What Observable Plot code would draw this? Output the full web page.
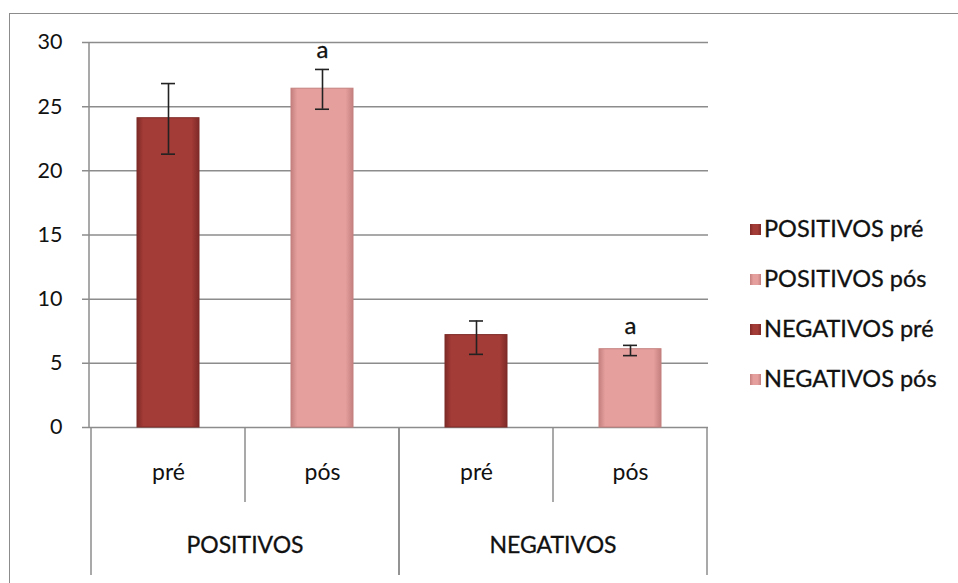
<!DOCTYPE html>
<html>
<head>
<meta charset="utf-8">
<script src="https://cdn.jsdelivr.net/npm/d3@7"></script>
<script src="https://cdn.jsdelivr.net/npm/@observablehq/plot@0.6"></script>
<style>
  html, body { margin: 0; padding: 0; background: #fff; overflow: hidden; }
  #wrap { position: relative; width: 958px; height: 583px; overflow: hidden; font-family: Lato, "Open Sans", sans-serif; }
  #border { position: absolute; left: 9px; top: 13px; width: 1000px; height: 700px; border: 1.5px solid #8c8c8c; box-sizing: border-box; }
  #chart { position: absolute; left: 0; top: 0; }
  #legend { position: absolute; left: 750px; top: 203px; }
  .item { height: 50px; line-height: 50px; font-size: 23.5px; color: #111; white-space: nowrap; -webkit-text-stroke: 0.3px #111; }
  .sw { display: inline-block; width: 11px; height: 11px; margin-right: 3px; vertical-align: middle; position: relative; top: -2px; }
</style>
</head>
<body>
<div id="wrap">
  <div id="border"></div>
  <div id="chart"></div>
  <div id="legend"></div>
</div>
<script>
// ---- data ----
const groups = ["POSITIVOS", "POSITIVOS", "NEGATIVOS", "NEGATIVOS"];
const phases = ["pré", "pós", "pré", "pós"];
const means = [24.1, 26.4, 7.2, 6.1];
const errLow = [21.3, 24.8, 5.7, 5.6];
const errHigh = [26.8, 27.9, 8.3, 6.4];
const sigLabels = ["", "a", "", "a"];
const seriesNames = ["POSITIVOS pré", "POSITIVOS pós", "NEGATIVOS pré", "NEGATIVOS pós"];
const yTicks = [0, 5, 10, 15, 20, 25, 30];
const baseColors = ["#a33b37", "#e5a09e", "#a33b37", "#e5a09e"];
const edgeColors = ["#7e2a27", "#c4807e", "#7e2a27", "#c4807e"];

const data = means.map((m, i) => ({
  key: seriesNames[i], group: groups[i], phase: phases[i],
  mean: m, lo: errLow[i], hi: errHigh[i], sig: sigLabels[i], idx: i
}));

const grid = "#8c8c8c";
const ink = "#111";

function separators(index, scales, values, dimensions) {
  const x = scales.x;
  const step = x(seriesNames[1]) - x(seriesNames[0]);
  const y0 = dimensions.height - dimensions.marginBottom;
  const g = d3.create("svg:g");
  g.append("line").attr("x1", dimensions.marginLeft).attr("x2", dimensions.marginLeft)
    .attr("y1", dimensions.marginTop).attr("y2", y0).attr("stroke", grid).attr("stroke-width", 1.5);
  const uniq = Array.from(new Set(groups));
  for (const gr of uniq) {
    const keys = seriesNames.filter((k, i) => groups[i] === gr);
    const left = x(keys[0]);
    const right = x(keys[keys.length - 1]) + step;
    for (const xx of [left, right]) {
      g.append("line").attr("x1", xx).attr("x2", xx).attr("y1", y0).attr("y2", y0 + 148)
        .attr("stroke", grid).attr("stroke-width", 1.5);
    }
    for (let j = 1; j < keys.length; j++) {
      const xx = x(keys[j]);
      g.append("line").attr("x1", xx).attr("x2", xx).attr("y1", y0).attr("y2", y0 + 75)
        .attr("stroke", grid).attr("stroke-width", 1.5);
    }
    g.append("text").attr("x", (left + right) / 2).attr("y", y0 + 118)
      .attr("text-anchor", "middle").attr("dy", "0.35em")
      .attr("font-size", 23).attr("fill", ink).attr("stroke", ink).attr("stroke-width", 0.3)
      .text(gr);
  }
  return g.node();
}

const plot = Plot.plot({
  width: 958,
  height: 583,
  marginLeft: 89,
  marginRight: 250,
  marginTop: 42,
  marginBottom: 156,
  style: { fontFamily: "Lato, 'Open Sans', sans-serif", color: ink, background: "transparent" },
  x: { domain: seriesNames, padding: 0 },
  y: { domain: [0, 30] },
  marks: [
    Plot.gridY(yTicks, { stroke: grid, strokeOpacity: 1, strokeWidth: 1.5, insetLeft: -7 }),
    Plot.axisY(yTicks, { tickSize: 0, tickPadding: 27, fontSize: 21.5, fill: ink, stroke: ink, strokeWidth: 0.3 }),
    Plot.barY(data, { x: "key", y: "mean", fill: d => `url(#grad${d.idx})`, stroke: d => edgeColors[d.idx], strokeWidth: 1, insetLeft: 46, insetRight: 46 }),
    Plot.ruleX(data, { x: "key", y1: "lo", y2: "hi", stroke: "#222", strokeWidth: 1.6 }),
    Plot.tickY(data, { x: "key", y: "lo", stroke: "#222", strokeWidth: 1.6, insetLeft: 70, insetRight: 70 }),
    Plot.tickY(data, { x: "key", y: "hi", stroke: "#222", strokeWidth: 1.6, insetLeft: 70, insetRight: 70 }),
    Plot.text(data, { x: "key", y: "hi", text: "sig", dy: -19, fontSize: 24, lineAnchor: "middle", fill: ink, stroke: ink, strokeWidth: 0.3 }),
    Plot.axisX({ tickSize: 0, tickPadding: 36, fontSize: 23, fill: ink, stroke: ink, strokeWidth: 0.3, tickFormat: d => phases[seriesNames.indexOf(d)], label: null }),
    separators
  ]
});

const svg = d3.select(plot);
const defs = svg.insert("defs", ":first-child");
baseColors.forEach((c, i) => {
  const lg = defs.append("linearGradient").attr("id", "grad" + i).attr("x1", 0).attr("x2", 1).attr("y1", 0).attr("y2", 0);
  lg.append("stop").attr("offset", "0%").attr("stop-color", edgeColors[i]);
  lg.append("stop").attr("offset", "10%").attr("stop-color", c);
  lg.append("stop").attr("offset", "88%").attr("stop-color", c);
  lg.append("stop").attr("offset", "100%").attr("stop-color", edgeColors[i]);
});

document.getElementById("chart").appendChild(plot);

const legend = d3.select("#legend");
seriesNames.forEach((name, i) => {
  const it = legend.append("div").attr("class", "item");
  it.append("span").attr("class", "sw")
    .style("background", `linear-gradient(to right, ${edgeColors[i]}, ${baseColors[i]} 30%, ${baseColors[i]} 70%, ${edgeColors[i]})`);
  it.append("span").text(name);
});
</script>
</body>
</html>
